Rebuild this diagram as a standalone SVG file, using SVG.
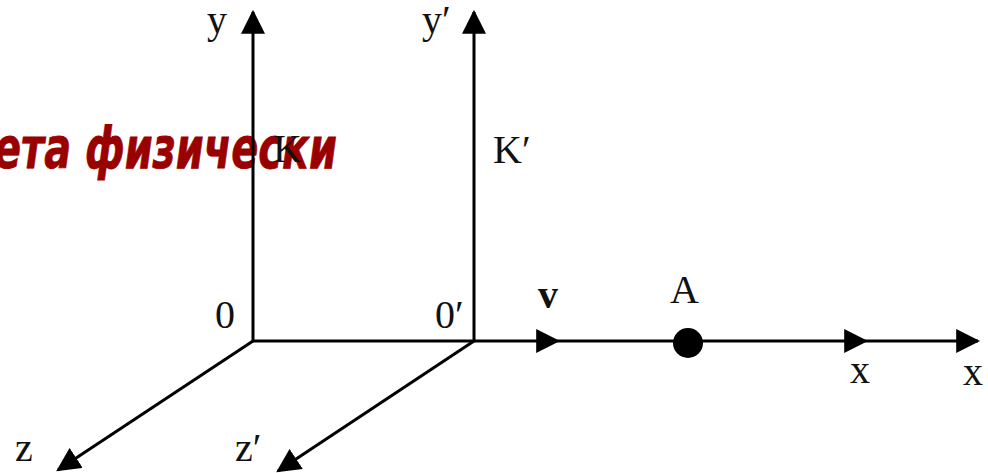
<svg xmlns="http://www.w3.org/2000/svg" width="988" height="473" viewBox="0 0 988 473">
  <style>
    .ax { stroke: #000; stroke-width: 3; fill: none; }
    .lbl { font-family: "Liberation Serif", "Times New Roman", serif; font-size: 40px; fill: #111; }
    .title { font-family: "DejaVu Sans", Verdana, sans-serif; font-weight: bold; font-style: italic; font-size: 57px; fill: #990000; stroke: #990000; stroke-width: 0.8; }
  </style>
  <defs>
    <marker id="ah" markerUnits="userSpaceOnUse" markerWidth="24" markerHeight="24" viewBox="0 0 22 22" refX="20" refY="11" orient="auto">
      <path d="M0,0 L22,11 L0,22 z" fill="#000"/>
    </marker>
  </defs>
  <rect width="988" height="473" fill="#fff"/>

  <g id="title">
    <text class="title" x="-6" y="168" textLength="343" lengthAdjust="spacingAndGlyphs">ета физически</text>
  </g>

  <g id="connectors">
    <line class="ax" x1="253" y1="341" x2="253" y2="12" marker-end="url(#ah)"/>
    <line class="ax" x1="474" y1="341" x2="474" y2="12" marker-end="url(#ah)"/>
    <line class="ax" x1="253" y1="341" x2="58" y2="470" marker-end="url(#ah)"/>
    <line class="ax" x1="474" y1="341" x2="278" y2="471" marker-end="url(#ah)"/>
    <line class="ax" x1="253" y1="341" x2="558" y2="341" marker-end="url(#ah)"/>
    <line class="ax" x1="558" y1="341" x2="866" y2="341" marker-end="url(#ah)"/>
    <line class="ax" x1="866" y1="341" x2="978" y2="341" marker-end="url(#ah)"/>
  </g>

  <g id="frameK">
    <text class="lbl" x="207" y="33">y</text>
    <text class="lbl" x="273" y="162" font-size="42">K</text>
    <text class="lbl" x="215" y="328">0</text>
    <text class="lbl" x="15" y="461">z</text>
  </g>

  <g id="frameK2">
    <text class="lbl" x="422" y="33">y′</text>
    <text class="lbl" x="493" y="163" font-size="42">K′</text>
    <text class="lbl" x="435" y="328">0′</text>
    <text class="lbl" x="235" y="461">z′</text>
  </g>

  <g id="velocity">
    <text class="lbl" x="538" y="308" font-weight="bold">v</text>
  </g>

  <g id="pointA">
    <circle cx="688" cy="343" r="15" fill="#000"/>
    <text class="lbl" x="670" y="303" font-size="42">A</text>
  </g>

  <g id="xlabels">
    <text class="lbl" x="850" y="383">x</text>
    <text class="lbl" x="963" y="385">x</text>
  </g>
</svg>
